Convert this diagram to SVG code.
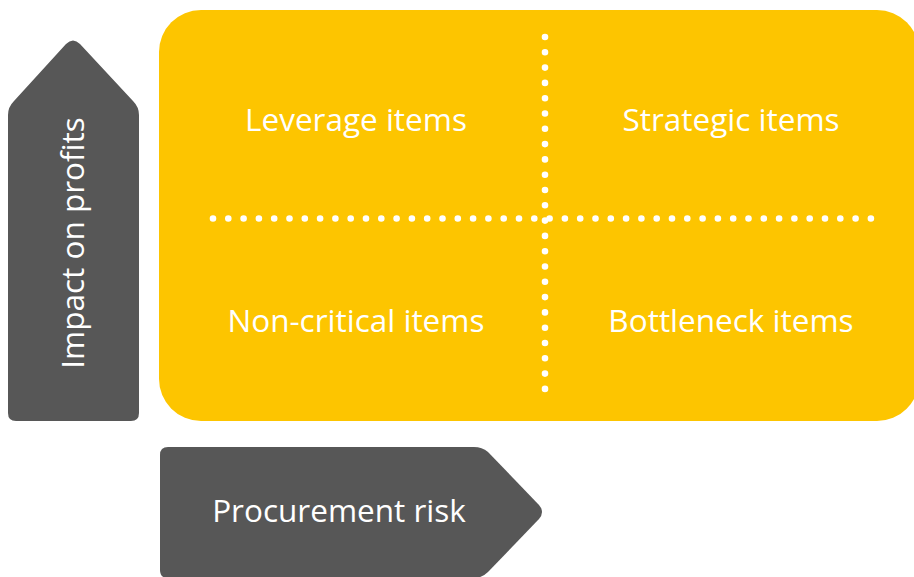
<svg xmlns="http://www.w3.org/2000/svg" width="914" height="577" viewBox="0 0 914 577">
<style>
.lbl{font-family:"Open Sans","Liberation Sans",sans-serif;font-size:31.5px;fill:#ffffff;text-anchor:middle}
.dots{stroke:#ffffff;stroke-width:6.6;stroke-linecap:round;stroke-dasharray:0 15.3;fill:none}
</style>
<rect width="914" height="577" fill="#ffffff"/>
<g id="matrix">
<rect x="159" y="10" width="760" height="411" rx="42" fill="#FDC500"/>
</g>
<g id="connectors">
<line class="dots" x1="545" y1="37" x2="545" y2="400"/>
<line class="dots" x1="213" y1="218.5" x2="874" y2="218.5"/>
</g>
<g id="leverage"><text class="lbl" x="356" y="131">Leverage items</text></g>
<g id="strategic"><text class="lbl" x="731" y="131">Strategic items</text></g>
<g id="noncritical"><text class="lbl" x="356" y="332">Non-critical items</text></g>
<g id="bottleneck"><text class="lbl" x="731" y="332">Bottleneck items</text></g>
<g id="impact">
<path d="M16,421 Q8,421 8,413 L8,115 Q8,107 14,101 L66,44 Q73,37 80,44 L133,101 Q139,107 139,115 L139,413 Q139,421 131,421 Z" fill="#575757"/>
<text class="lbl" transform="translate(84,243) rotate(-90)" x="0" y="0">Impact on profits</text>
</g>
<g id="procurement">
<path d="M168,447 L474,447 Q482,447 488,452 L539,505 Q545,512 539,519 L488,572 Q482,578 474,578 L168,578 Q160,578 160,570 L160,455 Q160,447 168,447 Z" fill="#575757"/>
<text class="lbl" x="339" y="522">Procurement risk</text>
</g>
</svg>
